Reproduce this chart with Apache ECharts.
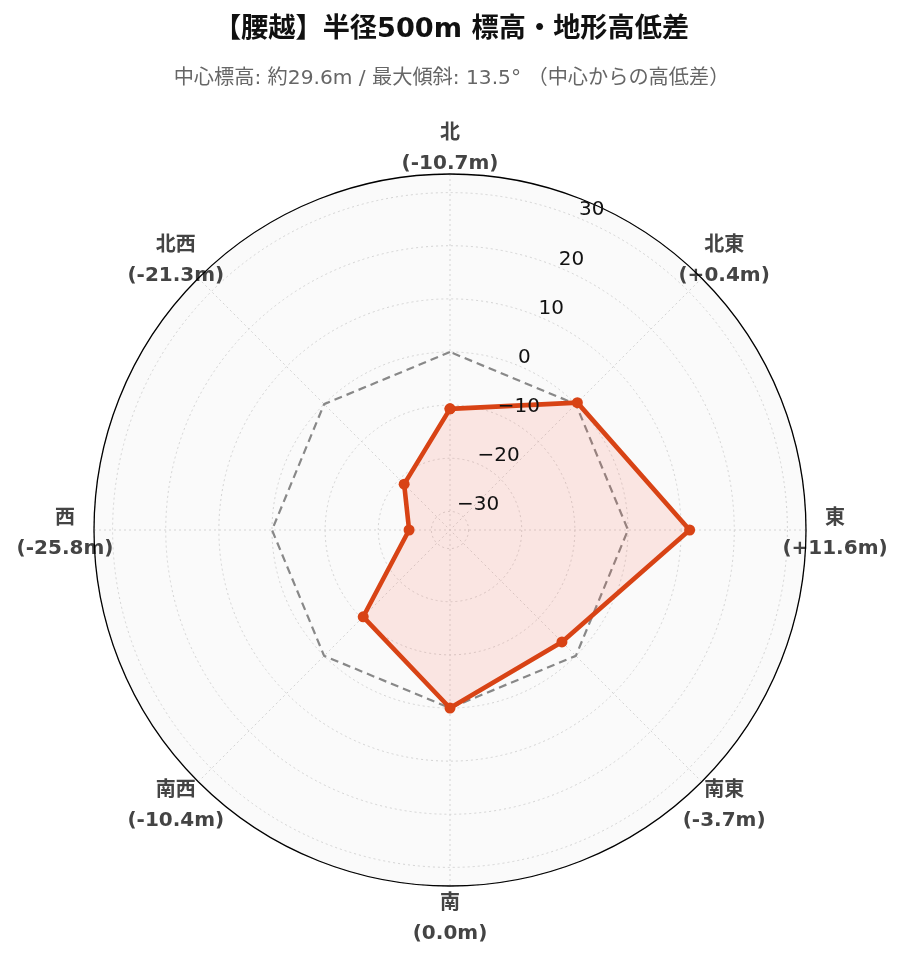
<!DOCTYPE html>
<html><head><meta charset="utf-8">
<script src="https://cdn.jsdelivr.net/npm/echarts@6/dist/echarts.min.js"></script>
<style>html,body{margin:0;padding:0;background:#fff}#c{width:903px;height:962px}</style>
</head><body><div id="c"></div>
<script>
// ---- data ----
const directions = ['北', '北東', '東', '南東', '南', '南西', '西', '北西'];
const diffValues = [-10.7, 0.4, 11.6, -3.7, 0.0, -10.4, -25.8, -21.3];
const baseValues = [0, 0, 0, 0, 0, 0, 0, 0];
const radialMin = -33.5;
const radialMax = 33.5;
const titleText = '【腰越】半径500m 標高・地形高低差';
const subtitleText = '中心標高: 約29.6m / 最大傾斜: 13.5° （中心からの高低差）';

// ---- layout ----
const FONT = "'DejaVu Sans', 'Noto Sans CJK JP', sans-serif";
const CX = 450, CY = 530, R = 356;
const LABEL_R = 385, LABEL_DY = 3.5, ANCHOR_R = 300, LW = 124, LH = 60;

// angle axis runs counter-clockwise from 67.5deg so that the first band centre is north
const axisOrder = [0, 7, 6, 5, 4, 3, 2, 1];
const axisCats = axisOrder.map(i => directions[i]);

function fmtVal(v) {
  return '(' + (v > 0 ? '+' : '') + v.toFixed(1) + 'm)';
}
function labelPadding(i) {
  const ang = i * Math.PI / 4;
  const sx = Math.sin(ang), sy = -Math.cos(ang);
  const px = ANCHOR_R * sx, py = ANCHOR_R * sy;
  const cx = LABEL_R * sx, cy = LABEL_R * sy + LABEL_DY;
  const h = Math.abs(px) / R < 0.3 ? 'center' : (px > 0 ? 'left' : 'right');
  const v = Math.abs(py) / R < 0.3 ? 'middle' : (py > 0 ? 'top' : 'bottom');
  let pl = 0, pr = 0, pt = 0, pb = 0;
  if (h === 'left') pl = Math.max(0, cx - LW / 2 - px);
  if (h === 'right') pr = Math.max(0, px - (cx + LW / 2));
  if (v === 'top') pt = Math.max(0, cy - LH / 2 - py);
  if (v === 'bottom') pb = Math.max(0, py - (cy + LH / 2));
  if (v === 'middle') { const d = cy - py; if (d > 0) pt = 2 * d; else pb = -2 * d; }
  return [pt, pr, pb, pl];
}

const angleData = axisOrder.map(i => ({
  value: directions[i],
  textStyle: { padding: labelPadding(i) }
}));

function loop(values) {
  const pts = axisOrder.map(i => [values[i], directions[i]]);
  pts.push(pts[0].slice());
  return pts;
}

const gridLine = { color: '#d4d4d4', width: 1, type: [2, 3] };

const chart = echarts.init(document.getElementById('c'), null, { renderer: 'canvas' });
chart.setOption({
  backgroundColor: '#ffffff',
  animation: false,
  textStyle: { fontFamily: FONT },
  graphic: [{
    type: 'circle',
    z: -10,
    silent: true,
    shape: { cx: CX, cy: CY, r: R },
    style: { fill: '#fafafa' }
  }],
  title: {
    text: titleText,
    subtext: subtitleText,
    left: 'center',
    top: 9,
    itemGap: 20,
    textStyle: { fontFamily: FONT, fontSize: 27.2, fontWeight: 'bold', color: '#111', lineHeight: 32 },
    subtextStyle: { fontFamily: FONT, fontSize: 20.2, color: '#666', lineHeight: 26 }
  },
  polar: [
    { center: [CX, CY], radius: R },
    { center: [CX, CY], radius: R }
  ],
  angleAxis: [
    {
      polarIndex: 0,
      type: 'category',
      data: angleData,
      startAngle: 67.5,
      clockwise: false,
      boundaryGap: true,
      z: 1.5,
      axisLine: { show: true, lineStyle: { color: '#000', width: 1.3 } },
      axisTick: { show: false, alignWithLabel: true },
      splitLine: { show: true, lineStyle: gridLine },
      splitArea: { show: false },
      axisLabel: {
        margin: ANCHOR_R - R,
        color: '#444',
        formatter: function (name) {
          const i = directions.indexOf(name);
          return '{d|' + name + '}\n{d|' + fmtVal(diffValues[i]) + '}';
        },
        rich: {
          d: { fontFamily: FONT, fontSize: 20, fontWeight: 'bold', color: '#444', lineHeight: 30, width: LW, align: 'center' }
        }
      }
    },
    {
      polarIndex: 1,
      type: 'category',
      data: axisCats,
      startAngle: 67.5,
      clockwise: false,
      boundaryGap: true,
      axisLine: { show: false },
      axisTick: { show: false },
      axisLabel: { show: false },
      splitLine: { show: false }
    }
  ],
  radiusAxis: [
    {
      polarIndex: 0,
      type: 'value',
      min: radialMin,
      max: radialMax,
      splitNumber: 6,
      z: 1,
      axisLine: { show: false },
      axisTick: { show: false },
      axisLabel: { show: false },
      splitLine: { show: true, lineStyle: gridLine },
      splitArea: { show: false }
    },
    {
      polarIndex: 1,
      type: 'value',
      min: radialMin,
      max: radialMax,
      splitNumber: 6,
      z: 10,
      axisLine: { show: false },
      axisTick: { show: false },
      splitLine: { show: false },
      splitArea: { show: false },
      axisLabel: {
        margin: 0,
        align: 'left',
        verticalAlign: 'bottom',
        lineHeight: 16,
        showMinLabel: false,
        showMaxLabel: false,
        fontFamily: FONT,
        fontSize: 20,
        color: '#111',
        formatter: function (v) {
          if (Math.abs(v - Math.round(v / 10) * 10) > 1e-6) return '';
          return v < 0 ? '\u2212' + Math.abs(v) : String(v);
        }
      }
    }
  ],
  series: [
    {
      name: 'base',
      type: 'line',
      coordinateSystem: 'polar',
      polarIndex: 0,
      data: loop(baseValues),
      symbol: 'none',
      lineStyle: { color: '#888', width: 2.2, type: [8, 5] },
      z: 2
    },
    {
      name: 'diff',
      type: 'line',
      coordinateSystem: 'polar',
      polarIndex: 0,
      data: loop(diffValues),
      symbol: 'circle',
      symbolSize: 11,
      showSymbol: true,
      itemStyle: { color: '#d84315' },
      lineStyle: { color: '#d84315', width: 4.6 },
      areaStyle: { color: 'rgba(255,90,60,0.18)', origin: 'start' },
      z: 3
    }
  ]
});
</script></body></html>
